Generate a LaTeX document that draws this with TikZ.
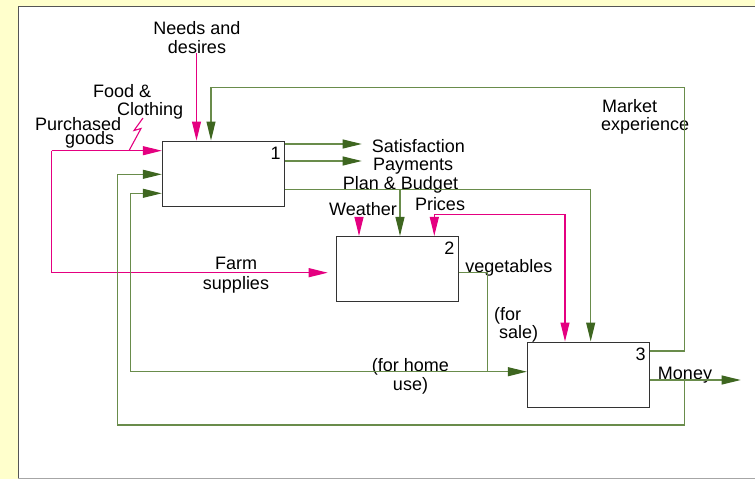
\documentclass[tikz,border=0pt]{standalone}
\usepackage{fontspec}
\setmainfont{Liberation Sans}
\usetikzlibrary{arrows.meta}
\definecolor{bgyellow}{RGB}{255,255,204}
\definecolor{lgreen}{RGB}{105,140,75}
\definecolor{hgreen}{RGB}{62,102,32}
\definecolor{pinkm}{RGB}{228,0,128}
\definecolor{frame}{RGB}{85,85,85}
\begin{document}
\begin{tikzpicture}[x=1pt,y=-1pt,
  gline/.style={draw=lgreen, line width=1.1pt},
  garrow/.style={gline, -{Triangle[length=19pt,width=9pt,color=hgreen]}},
  pline/.style={draw=pinkm, line width=1.1pt},
  parrow/.style={pline, -{Triangle[length=19pt,width=9pt,color=pinkm]}},
  procbox/.style={draw=black!80, line width=1pt, fill=white, minimum width=122pt, minimum height=65pt, inner sep=0pt},
  lbl/.style={font=\fontsize{18}{19}\selectfont, inner sep=0pt, text=black, yshift=-2pt},
  num/.style={font=\fontsize{18}{19}\selectfont, inner sep=0pt, anchor=north east}
]
\useasboundingbox (0,0) rectangle (755,479);
\fill[bgyellow] (0,0) rectangle (755,479);
\fill[white] (18.3,6) rectangle (756,478);
\draw[frame, line width=1pt] (18.3,478) -- (18.3,6) -- (756,6);
\draw[black!35, line width=1pt] (18.3,478) -- (756,478);

% boxes
\node[procbox] (b1) at (223.3,173.5) {};
\node[procbox] (b2) at (397.2,268.9) {};
\node[procbox] (b3) at (588.3,374.5) {};
\node[num] (n1) at ([xshift=-4pt,yshift=-6pt]b1.north east) {1};
\node[num] (n2) at ([xshift=-4pt,yshift=-6pt]b2.north east) {2};
\node[num] (n3) at ([xshift=-4pt,yshift=-6pt]b3.north east) {3};

% labels
\node[lbl, align=center] (needs) at (197,35.5) {Needs and\\desires};
\node[lbl, align=left, anchor=west] (food) at (93,100) {Food \&\\[-1pt]\hspace*{24pt}Clothing};
\node[lbl, align=left, anchor=west, font=\fontsize{18}{14}\selectfont] (purch) at (35,131) {Purchased\\\hspace*{30pt}goods};
\node[lbl, anchor=west] (sat) at (371.7,143.7) {Satisfaction};
\node[lbl, anchor=west] (pay) at (373,163.7) {Payments};
\node[lbl] (plan) at (400.5,182.7) {Plan \& Budget};
\node[lbl] (weather) at (363,206.7) {Weather};
\node[lbl] (prices) at (440,202.3) {Prices};
\node[lbl, align=left, anchor=west, font=\fontsize{18}{18}\selectfont] (market) at (601,115) {\hspace*{1pt}Market\\experience};
\node[lbl, align=center, font=\fontsize{18}{20}\selectfont] (farm) at (236,273.3) {Farm\\supplies};
\node[lbl] (veg) at (508.8,266) {vegetables};
\node[lbl, align=left, anchor=west, font=\fontsize{18}{15}\selectfont] (sale) at (494,322.5) {(for\\\hspace*{5pt}sale)};
\node[lbl, align=center] (home) at (410.5,374.5) {(for home\\use)};
\node[lbl] (money) at (685,373.3) {Money};

% coordinates
\coordinate (nd) at (196.5,53);
\coordinate (fb1) at (684.3,351);
\coordinate (fb2) at (684.3,87.7);
\coordinate (fb3) at (211,87.7);
\coordinate (pg) at (51.7,150.7);
\coordinate (pf) at (51.7,272.7);
\coordinate (mo) at (740.7,380);
\coordinate (m1) at (684.3,380);
\coordinate (m2) at (684.3,425);
\coordinate (m3) at (117.3,425);
\coordinate (m4) at (117.3,174.3);
\coordinate (v1) at (487.3,272.7);
\coordinate (v2) at (487.3,371.7);
\coordinate (h1) at (130.3,371.7);
\coordinate (h2) at (130.3,193.3);
\coordinate (satend) at (361.7,144);
\coordinate (payend) at (361.7,161);
\coordinate (pb1) at (590.7,189.3);
\coordinate (pb2) at (400,189.3);
\coordinate (w) at (359,216.7);
\coordinate (pr1) at (434.3,214.3);
\coordinate (pr2) at (565,214.3);

% magenta connectors
\draw[parrow] (nd) -- (nd |- b1.north);
\draw[parrow] (pg) -- (pg -| b1.west);
\draw[parrow, shorten >=8pt] (pg) -- (pf) -- (pf -| b2.west);
\draw[pline] (129,150.7) -- (141,128.5) -- (134,130.5) -- (143,118);
\draw[parrow] (w) -- (w |- b2.north);
\draw[parrow] (pr1) -- (pr1 |- b2.north);
\draw[parrow] (pr1) -- (pr2) -- (pr2 |- b3.north);

% green connectors
\draw[garrow] (b3.east |- fb1) -- (fb1) -- (fb2) -- (fb3) -- (fb3 |- b1.north);
\draw[garrow] (b3.east |- mo) -- (mo);
\draw[garrow] (m1) -- (m2) -- (m3) -- (m4) -- (m4 -| b1.west);
\draw[gline] (b2.east |- v1) -- (v1) -- (v2);
\draw[garrow] (v2) -- (v2 -| b3.west);
\draw[garrow] (v2) -- (h1) -- (h2) -- (h2 -| b1.west);
\draw[garrow] (b1.east |- satend) -- (satend);
\draw[garrow] (b1.east |- payend) -- (payend);
\draw[gline] (b1.east |- pb1) -- (pb1);
\draw[garrow] (pb1) -- (pb1 |- b3.north);
\draw[garrow] (pb2) -- (pb2 |- b2.north);
\end{tikzpicture}
\end{document}
